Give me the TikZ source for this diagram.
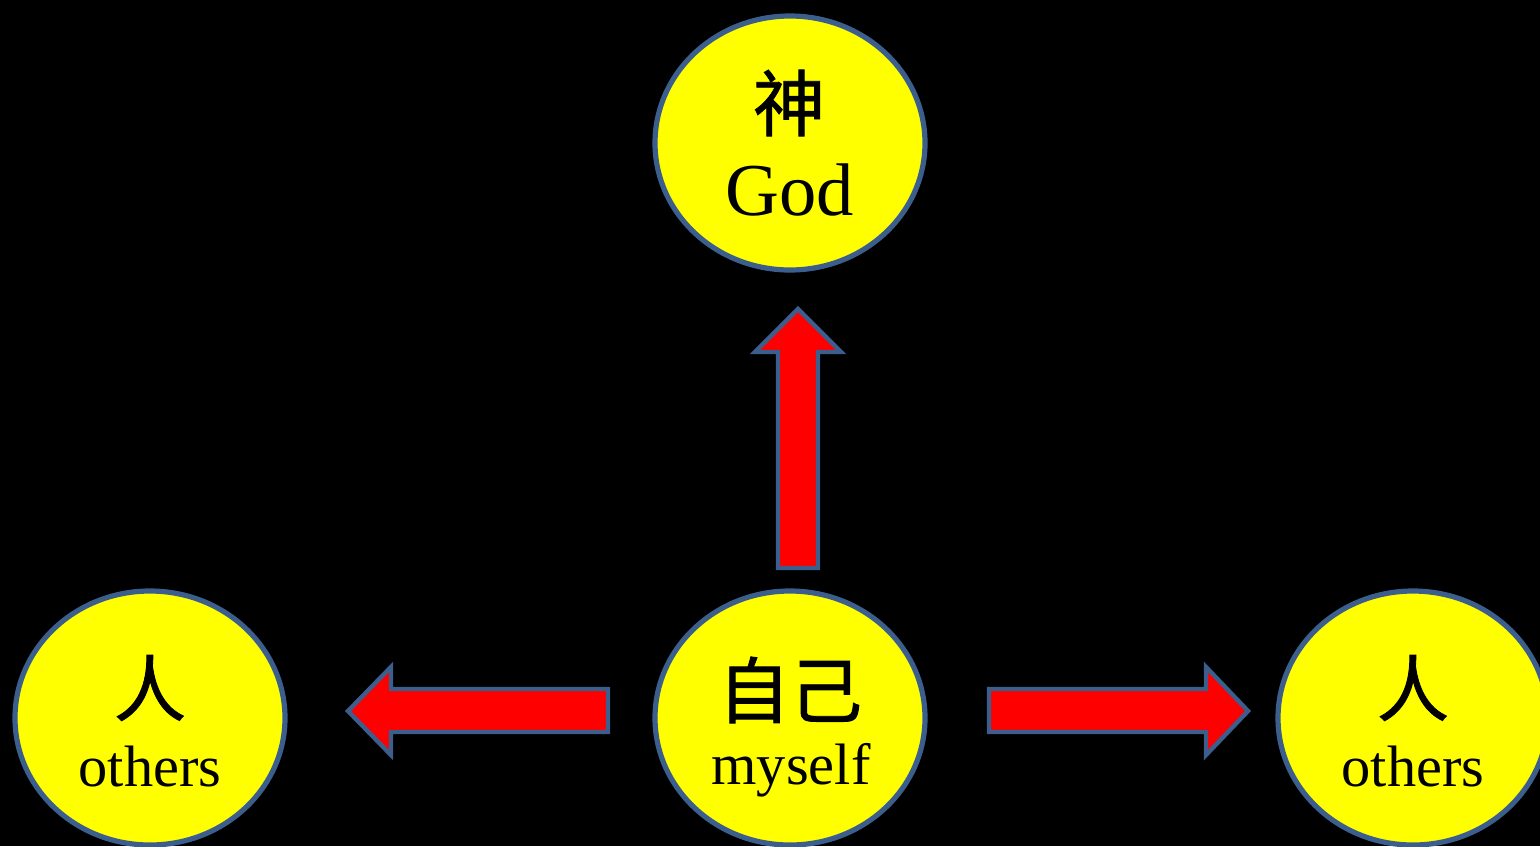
\documentclass[tikz,border=0pt]{standalone}
\usepackage{fontspec}
\setmainfont{Liberation Serif}
\newfontfamily\cjk[FakeBold=1.2]{Noto Sans CJK SC}
\usetikzlibrary{shapes.geometric}
\definecolor{ringblue}{HTML}{3B5E8C}
\definecolor{fillyellow}{HTML}{FFFF00}
\definecolor{arrowred}{HTML}{FF0000}
\tikzset{
  bubble/.style={ellipse, draw=ringblue, fill=fillyellow, line width=2.6pt,
    minimum width=135pt, minimum height=127pt, inner sep=0pt},
  hanzi/.style={font=\cjk\fontsize{36}{36}\selectfont, text=black, inner sep=0pt},
  latin/.style={font=\fontsize{29.2}{29.2}\selectfont, text=black, inner sep=0pt, anchor=base},
  blockarrow/.style={draw=ringblue, fill=arrowred, line width=2.2pt, line join=miter}
}
\begin{document}
\begin{tikzpicture}[x=0.5pt, y=-0.5pt]
\fill[black] (0,0) rectangle (1540,846);
\useasboundingbox (0,0) rectangle (1540,846);
\clip (0,0) rectangle (1540,846);
% circles
\node[bubble] (god) at (790,143) {};
\node[bubble] (self) at (790,718) {};
\node[bubble] (left) at (150,718) {};
\node[bubble] (right) at (1413,718) {};
% texts
\node[hanzi] (godzh) at (789,103) {神};
\node[latin, font=\fontsize{37.3}{37.3}\selectfont] (goden) at (790,215) {God};
\node[hanzi] (selfzh) at (790,690) {自己};
\node[latin] (selfen) at (791,784) {myself};
\node[hanzi] (leftzh) at (150,688) {人};
\node[latin] (leften) at (150,786) {others};
\node[hanzi] (rightzh) at (1413,688) {人};
\node[latin] (righten) at (1413,786) {others};
% block arrows
\coordinate (upbase) at (798,568);
\coordinate (uptip) at (798,309);
\draw[blockarrow] (778,568) -- (778,352) -- (755,352) -- (uptip) -- (841,352) -- (818,352) -- (818,568) -- cycle;
\coordinate (lefttip) at (348,711);
\draw[blockarrow] (608,689) -- (391,689) -- (391,667) -- (lefttip) -- (391,755) -- (391,732) -- (608,732) -- cycle;
\coordinate (righttip) at (1248,711);
\draw[blockarrow] (989,689) -- (1206,689) -- (1206,667) -- (righttip) -- (1206,755) -- (1206,732) -- (989,732) -- cycle;
\end{tikzpicture}
\end{document}
